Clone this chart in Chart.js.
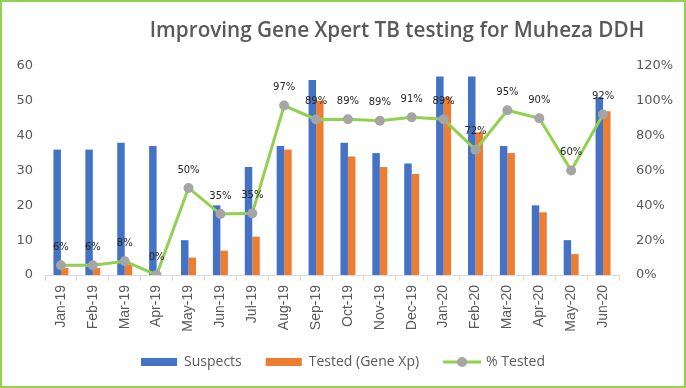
<!DOCTYPE html>
<html>
<head>
<meta charset="utf-8">
<script src="https://cdn.jsdelivr.net/npm/chart.js@4.4.0/dist/chart.umd.min.js"></script>
<style>
  body { margin: 0; background: #fff; }
  #wrap { position: relative; width: 686px; height: 388px; }
  #frame { position: absolute; inset: 0; border: 2px solid #92D050; pointer-events: none; }
</style>
</head>
<body>
<div id="wrap">
  <canvas id="grafico" width="686" height="388"></canvas>
  <div id="frame"></div>
</div>
<script>
const months = ['Jan-19', 'Feb-19', 'Mar-19', 'Apr-19', 'May-19', 'Jun-19', 'Jul-19', 'Aug-19', 'Sep-19',
  'Oct-19', 'Nov-19', 'Dec-19', 'Jan-20', 'Feb-20', 'Mar-20', 'Apr-20', 'May-20', 'Jun-20'];
const suspects = [36, 36, 38, 37, 10, 20, 31, 37, 56, 38, 35, 32, 57, 57, 37, 20, 10, 51];
const tested = [2, 2, 3, 0, 5, 7, 11, 36, 50, 34, 31, 29, 51, 41, 35, 18, 6, 47];
const pctTested = [5.6, 5.6, 7.9, 0, 50, 35, 35.4, 97.3, 89.3, 89.4, 88.6, 90.6, 89.4, 71.9, 94.6, 90, 60, 92.2];

const titulo = 'Improving Gene Xpert TB testing for Muheza DDH';
const cinza = '#595959';

// titulo deslocado para a direita, como no original
const tituloPlugin = {
  id: 'tituloPlugin',
  afterDraw(chart) {
    const ctx = chart.ctx;
    ctx.save();
    ctx.font = '600 20.7px "Open Sans"';
    ctx.fillStyle = cinza;
    ctx.textAlign = 'center';
    ctx.textBaseline = 'alphabetic';
    ctx.fillText(titulo, 397, 37);
    ctx.restore();
  }
};

// rotulos de % acima dos pontos
const rotulosPlugin = {
  id: 'rotulosPlugin',
  afterDatasetsDraw(chart) {
    const meta = chart.getDatasetMeta(2);
    const ctx = chart.ctx;
    ctx.save();
    ctx.font = '10px "DejaVu Sans"';
    ctx.fillStyle = '#262626';
    ctx.textAlign = 'center';
    ctx.textBaseline = 'middle';
    meta.data.forEach((pt, i) => {
      ctx.fillText(Math.round(pctTested[i]) + '%', pt.x, pt.y - 18);
    });
    ctx.restore();
  }
};

// marcador da legenda da linha (linha verde + bolinha cinza)
const legendaLinhaPlugin = {
  id: 'legendaLinhaPlugin',
  afterDraw(chart) {
    const box = chart.legend.legendHitBoxes[2];
    if (!box) return;
    const ctx = chart.ctx;
    const cy = box.top + box.height / 2;
    ctx.save();
    ctx.strokeStyle = '#92D050';
    ctx.lineWidth = 3;
    ctx.beginPath();
    ctx.moveTo(box.left, cy);
    ctx.lineTo(box.left + 38, cy);
    ctx.stroke();
    ctx.fillStyle = '#A5A5A5';
    ctx.beginPath();
    ctx.arc(box.left + 19, cy, 5, 0, Math.PI * 2);
    ctx.fill();
    ctx.restore();
  }
};

new Chart(document.getElementById('grafico'), {
  type: 'bar',
  data: {
    labels: months,
    datasets: [
      {
        label: 'Suspects',
        data: suspects,
        backgroundColor: '#4472C4',
        yAxisID: 'y',
        order: 2,
        categoryPercentage: 0.47,
        barPercentage: 1.0
      },
      {
        label: 'Tested (Gene Xp)',
        data: tested,
        backgroundColor: '#ED7D31',
        yAxisID: 'y',
        order: 2,
        categoryPercentage: 0.47,
        barPercentage: 1.0
      },
      {
        type: 'line',
        label: '% Tested',
        data: pctTested,
        borderColor: '#92D050',
        backgroundColor: '#A5A5A5',
        borderWidth: 3,
        pointRadius: 5,
        pointBackgroundColor: '#A5A5A5',
        pointBorderColor: '#A5A5A5',
        pointBorderWidth: 0,
        tension: 0,
        yAxisID: 'y1',
        order: 0
      }
    ]
  },
  options: {
    responsive: false,
    animation: false,
    layout: { padding: { top: 66, bottom: 9, left: 0, right: 0 } },
    plugins: {
      title: { display: false },
      tooltip: { enabled: false },
      legend: {
        position: 'bottom',
        labels: {
          color: cinza,
          font: { family: '"Open Sans"', size: 14 },
          boxWidth: 36,
          boxHeight: 8,
          padding: 24,
          generateLabels(chart) {
            return chart.data.datasets.map((ds, i) => ({
              text: ds.label,
              datasetIndex: i,
              fillStyle: ds.type === 'line' ? 'rgba(0,0,0,0)' : ds.backgroundColor,
              strokeStyle: 'rgba(0,0,0,0)',
              lineWidth: 0,
              fontColor: cinza,
              hidden: false
            }));
          }
        }
      }
    },
    scales: {
      x: {
        afterFit(scale) { scale.height = 56; },
        grid: {
          display: true,
          drawOnChartArea: false,
          drawTicks: true,
          tickLength: 6,
          color: '#D9D9D9',
          offset: true
        },
        border: { display: true, color: '#D9D9D9', width: 1 },
        ticks: {
          color: cinza,
          font: { family: '"Liberation Sans"', size: 14 },
          minRotation: 90,
          maxRotation: 90,
          autoSkip: false,
          padding: 4
        }
      },
      y: {
        position: 'left',
        min: 0,
        max: 60,
        afterFit(scale) { scale.width = 45; },
        grid: { display: false, drawTicks: false },
        border: { display: false },
        ticks: {
          stepSize: 10,
          color: cinza,
          font: { family: '"DejaVu Sans"', size: 13 },
          padding: 12
        }
      },
      y1: {
        position: 'right',
        min: 0,
        max: 120,
        afterFit(scale) { scale.width = 67; },
        grid: { display: false, drawTicks: false },
        border: { display: false },
        ticks: {
          stepSize: 20,
          color: cinza,
          font: { family: '"DejaVu Sans"', size: 13 },
          padding: 17,
          callback: v => v + '%'
        }
      }
    }
  },
  plugins: [tituloPlugin, rotulosPlugin, legendaLinhaPlugin]
});
</script>
</body>
</html>
